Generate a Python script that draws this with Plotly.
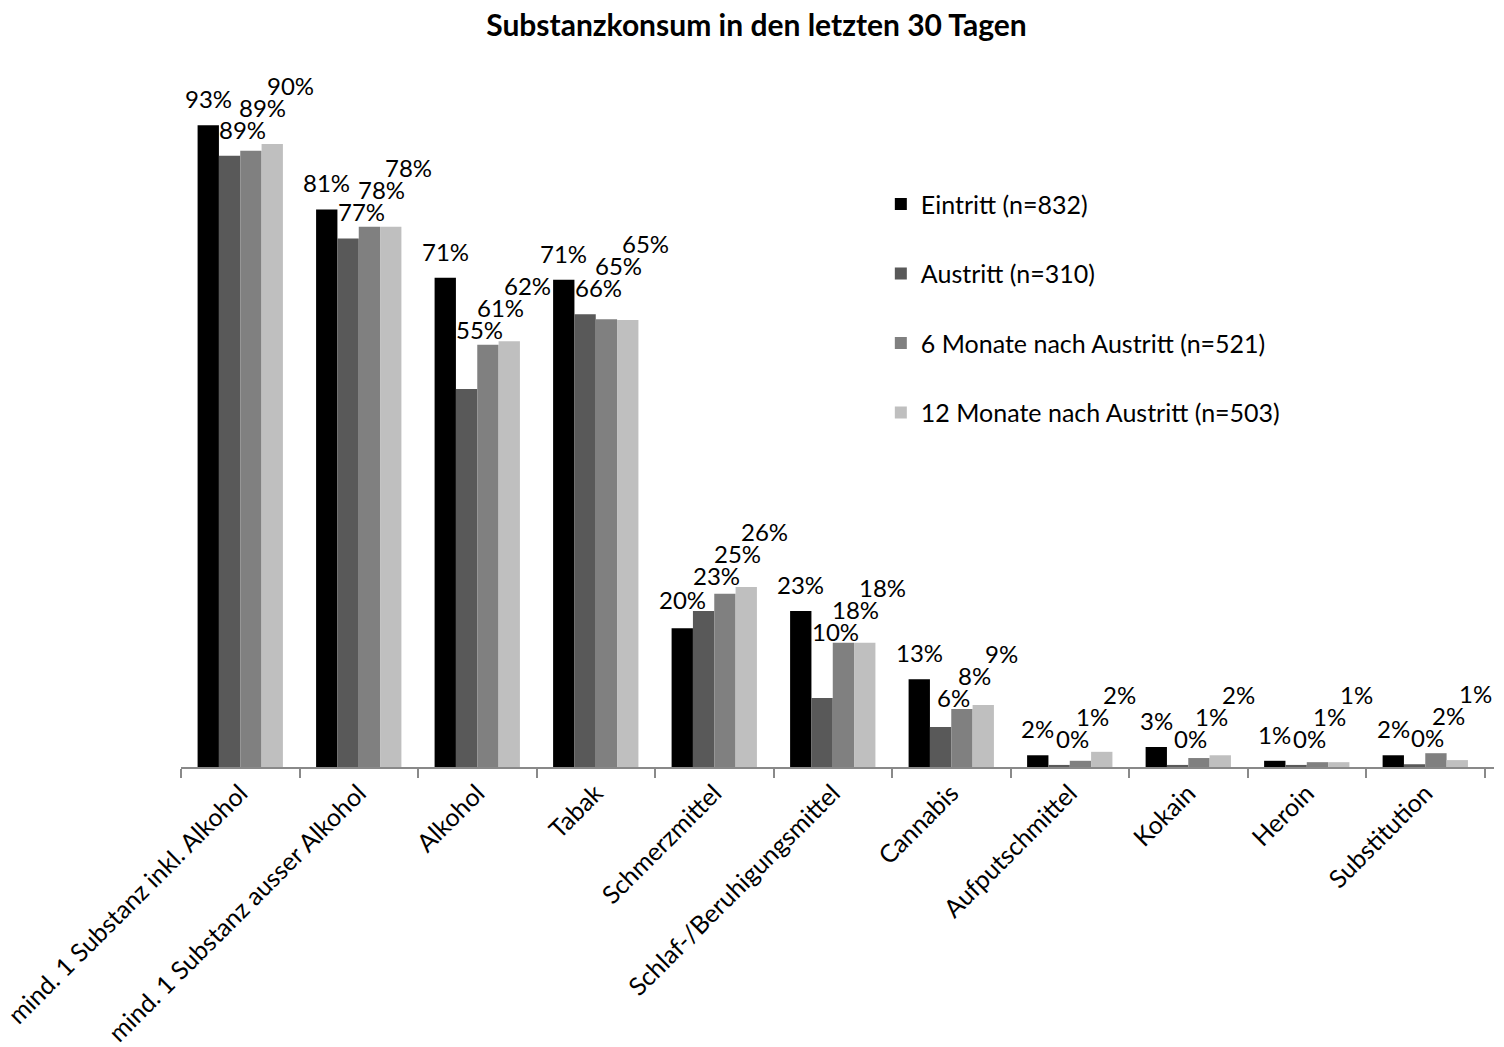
import plotly.graph_objects as go

categories = [
    "mind. 1 Substanz inkl. Alkohol",
    "mind. 1 Substanz ausser Alkohol",
    "Alkohol",
    "Tabak",
    "Schmerzmittel",
    "Schlaf-/Beruhigungsmittel",
    "Cannabis",
    "Aufputschmittel",
    "Kokain",
    "Heroin",
    "Substitution",
]
series_names = [
    "Eintritt (n=832)",
    "Austritt (n=310)",
    "6 Monate nach Austritt (n=521)",
    "12 Monate nach Austritt (n=503)",
]
eintritt = [93.0, 80.8, 70.9, 70.6, 20.1, 22.6, 12.7, 1.7, 2.9, 0.9, 1.7]
austritt = [88.6, 76.6, 54.8, 65.6, 22.6, 10.0, 5.8, 0.3, 0.3, 0.3, 0.4]
monate6 = [89.3, 78.3, 61.2, 64.9, 25.1, 18.0, 8.4, 0.9, 1.3, 0.7, 2.0]
monate12 = [90.3, 78.3, 61.7, 64.8, 26.1, 18.0, 9.0, 2.2, 1.7, 0.7, 1.0]
series_values = [eintritt, austritt, monate6, monate12]
title_text = "Substanzkonsum in den letzten 30 Tagen"

colors = ["#000000", "#595959", "#808080", "#BFBFBF"]
FONT = "Lato, Calibri, sans-serif"
W, H = 1504, 1047
ML, MR, MT, MB = 181, 10, 77, 280
PLOT_W = W - ML - MR
PLOT_H = H - MT - MB
Y_MAX = 100
BARGAP = 0.28
TXT_SIZE = 25
LBL_SIZE = 24

fig = go.Figure()
for name, vals, col in zip(series_names, series_values, colors):
    fig.add_trace(go.Bar(
        x=categories, y=vals, name=name, marker_color=col,
        marker_line_width=0, legendgroup=name, hoverinfo="x+y+name",
    ))

# data labels: outside end, nudged Excel-like to avoid overlapping bars/labels
px_per_unit = PLOT_H / Y_MAX
cat_w = PLOT_W / len(categories)
n_s = len(series_values)
bar_w = cat_w * (1 - BARGAP) / n_s
extra_dx = [0, 13, 12, 18]
annotations = []
for ci, cat in enumerate(categories):
    centers = [(s - (n_s - 1) / 2) * bar_w for s in range(n_s)]
    tops = [series_values[s][ci] * px_per_unit for s in range(n_s)]
    placed = []
    for si in range(n_s):
        v = series_values[si][ci]
        txt = f"{v:.0f}%"
        dx = centers[si] + extra_dx[si]
        wlab = 16.5 * len(txt)
        y = round(tops[si] + 27)
        for _ in range(30):
            moved = False
            for bc, bt in zip(centers, tops):
                if abs(bc - dx) < (bar_w + wlab) / 2 - 3 and y - 12 < bt:
                    y = round(bt + 12)
                    moved = True
            for (px, py, pw) in placed:
                if abs(px - dx) < (pw + wlab) / 2 and abs(py - y) < 21:
                    y = py + 22
                    moved = True
            if not moved:
                break
        placed.append((dx, y, wlab))
        annotations.append(dict(
            x=cat, y=0, xref="x", yref="y", text=txt, showarrow=False,
            xshift=dx, yshift=y, xanchor="center", yanchor="middle",
            font=dict(size=LBL_SIZE, color="#000000", family=FONT),
        ))

fig.update_layout(
    width=W, height=H,
    margin=dict(l=ML, r=MR, t=MT, b=MB, autoexpand=False),
    paper_bgcolor="white", plot_bgcolor="white",
    barmode="group", bargap=BARGAP, bargroupgap=0,
    font=dict(family=FONT, size=TXT_SIZE, color="#000000"),
    title=dict(text=f"<b>{title_text}</b>", x=0.503, xref="container",
               y=1 - 25 / H, yref="container", yanchor="middle",
               font=dict(size=30, family=FONT, color="#000000")),
    legend=dict(x=0.533, y=0.849, xanchor="left", yanchor="top",
                font=dict(size=TXT_SIZE, family=FONT), tracegroupgap=34,
                bgcolor="rgba(0,0,0,0)"),
    annotations=annotations,
    showlegend=True,
)
fig.update_xaxes(
    type="category", showline=True, linecolor="#898989", linewidth=1.5,
    ticks="outside", tickson="boundaries", ticklen=9, tickcolor="#898989",
    tickwidth=1.5, tickangle=-45, tickfont=dict(size=TXT_SIZE, family=FONT),
    showgrid=False, automargin=False,
)
fig.update_yaxes(visible=False, range=[0, Y_MAX], showgrid=False, automargin=False)

fig.write_html("out.html", config={"displayModeBar": False},
               post_script="document.body.style.margin='0';")
